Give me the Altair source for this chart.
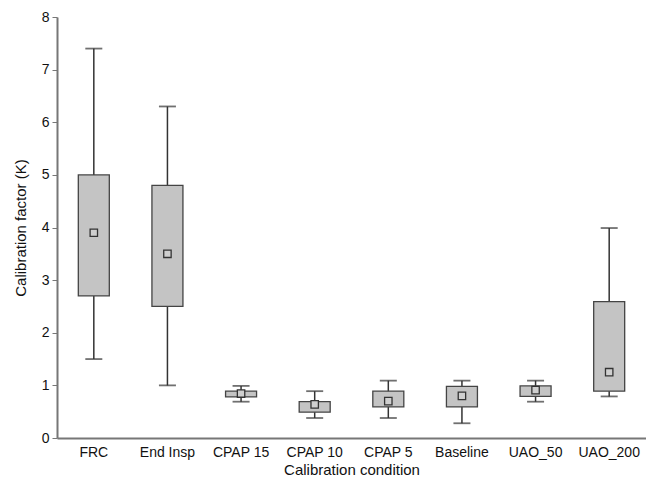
import altair as alt
import pandas as pd

conditions = ["FRC", "End Insp", "CPAP 15", "CPAP 10", "CPAP 5", "Baseline", "UAO_50", "UAO_200"]
whisker_low = [1.5, 1.0, 0.69, 0.38, 0.38, 0.28, 0.69, 0.79]
box_low = [2.7, 2.5, 0.78, 0.49, 0.59, 0.59, 0.79, 0.89]
box_high = [5.0, 4.8, 0.89, 0.69, 0.89, 0.98, 0.99, 2.59]
whisker_high = [7.4, 6.3, 0.99, 0.89, 1.09, 1.09, 1.09, 3.99]
means = [3.9, 3.5, 0.845, 0.64, 0.70, 0.80, 0.91, 1.25]

df = pd.DataFrame({
    "cond": conditions,
    "wlo": whisker_low,
    "q1": box_low,
    "q3": box_high,
    "whi": whisker_high,
    "mean": means,
})

font = "Liberation Sans"
x = alt.X("cond:N", sort=conditions, title="Calibration condition",
          scale=alt.Scale(paddingInner=0, paddingOuter=0),
          axis=alt.Axis(ticks=False, labelAngle=0, labelPadding=7, titlePadding=3,
                        domainColor="#777", domainWidth=2, labelFont=font, titleFont=font,
                        labelFontSize=14, titleFontSize=15, labelColor="#111", titleColor="#111",
                        titleFontWeight="normal"))
y_scale = alt.Scale(domain=[0, 8], nice=False, zero=True)
y_axis = alt.Axis(values=[0, 1, 2, 3, 4, 5, 6, 7, 8], grid=False, tickSize=5, tickColor="#777",
                  labelPadding=3, titlePadding=13, domainColor="#777", domainWidth=2,
                  labelFont=font, titleFont=font, labelFontSize=14, titleFontSize=15,
                  labelColor="#111", titleColor="#111", titleFontWeight="normal")

base = alt.Chart(df)

whisker = base.mark_rule(color="#333", strokeWidth=1.5).encode(
    x=x,
    y=alt.Y("wlo:Q", scale=y_scale, axis=y_axis, title="Calibration factor (K)"),
    y2="whi:Q",
)
cap_lo = base.mark_tick(color="#333", size=17, thickness=1.8).encode(x=x, y="wlo:Q")
cap_hi = base.mark_tick(color="#333", size=17, thickness=1.8).encode(x=x, y="whi:Q")
box = base.mark_bar(size=31, color="#c4c4c4", stroke="#444", strokeWidth=1.3).encode(
    x=x, y="q1:Q", y2="q3:Q")
mean_pt = base.mark_point(shape="square", size=55, filled=True, fill="#cfcfcf",
                          stroke="#333", strokeWidth=1.3, opacity=1).encode(x=x, y="mean:Q")

chart = alt.layer(whisker, cap_lo, cap_hi, box, mean_pt).properties(
    width=589, height=421,
    padding={"left": 5, "top": 2, "right": 0, "bottom": 0},
    background="white",
).configure_view(stroke=None)

chart.save("out.html", embed_options={"renderer": "svg", "actions": False})
